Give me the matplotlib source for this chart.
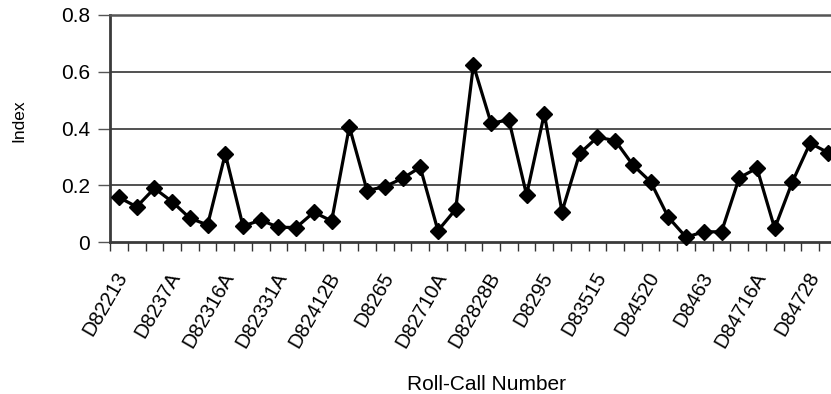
import matplotlib
matplotlib.use("Agg")
import matplotlib.pyplot as plt
import matplotlib.transforms as mtransforms
import numpy as np

plt.rcParams['font.family'] = ['Liberation Sans', 'DejaVu Sans']

# index value for each roll call, in order
index_values = [
    0.158, 0.125, 0.190, 0.143, 0.085, 0.061, 0.311, 0.057, 0.078, 0.053,
    0.052, 0.106, 0.075, 0.407, 0.182, 0.196, 0.225, 0.264, 0.041, 0.116,
    0.624, 0.419, 0.431, 0.167, 0.452, 0.108, 0.313, 0.370, 0.358, 0.272,
    0.213, 0.088, 0.018, 0.037, 0.037, 0.227, 0.261, 0.049, 0.213, 0.349,
    0.316,
]
# every third roll call gets a label
roll_call_labels = [
    "D82213", "D8237A", "D82316A", "D82331A", "D82412B", "D8265", "D82710A",
    "D82828B", "D8295", "D83515", "D84520", "D8463", "D84716A", "D84728",
]
label_step = 3
y_ticks = [0, 0.2, 0.4, 0.6, 0.8]
y_tick_labels = ["0", "0.2", "0.4", "0.6", "0.8"]

W, H = 831, 394
fig = plt.figure(figsize=(W / 100, H / 100), dpi=100)

# plot area runs slightly past the right edge of the figure
left, right = 110.1, 836.7
bottom, top = 242.3, 15.0
ax = fig.add_axes([left / W, 1 - bottom / H, (right - left) / W, (bottom - top) / H])

n = len(index_values)
x = np.arange(n)
ax.plot(x, index_values, color='black', lw=2.3, marker='D', markersize=8,
        markerfacecolor='black', markeredgecolor='black', clip_on=False, zorder=3)

ax.set_xlim(-0.5, n - 0.5)
ax.set_ylim(0, 0.8)

# horizontal gridlines
for yv in y_ticks[1:-1]:
    ax.axhline(yv, color='#333333', lw=1.2, zorder=1)

ax.set_yticks(y_ticks)
ax.set_yticklabels(y_tick_labels, fontsize=15)
ax.tick_params(axis='y', direction='out', length=9, width=1, color='#555555', pad=5.5)

label_pos = np.arange(0, n, label_step)[:len(roll_call_labels)]
ax.set_xticks(label_pos)
ax.set_xticklabels(roll_call_labels, fontsize=14.5, rotation=60, ha='right', va='top')
ax.tick_params(axis='x', which='major', length=0, pad=19)
ax.set_xticks(np.arange(-0.5, n, 1.0), minor=True)
ax.tick_params(axis='x', which='minor', direction='out', length=6.3, width=1, color='#333333')

# shift rotated labels so their ends sit just right of the category
offset = mtransforms.ScaledTranslation(12.5 / 100, 0, fig.dpi_scale_trans)
for lbl in ax.get_xticklabels():
    lbl.set_transform(lbl.get_transform() + offset)

for side in ['left', 'bottom']:
    ax.spines[side].set_color('#3a3a3a')
    ax.spines[side].set_linewidth(2.0)
ax.spines['top'].set_color('#555555')
ax.spines['top'].set_linewidth(1.8)
ax.spines['right'].set_visible(False)

fig.text(487 / W, 4 / H, "Roll-Call Number", fontsize=15, ha='center', va='baseline')
fig.text(18.5 / W, 1 - 121 / H, "Index", fontsize=12.5, rotation=90, ha='center', va='center')

fig.savefig("out.png", dpi=100)
